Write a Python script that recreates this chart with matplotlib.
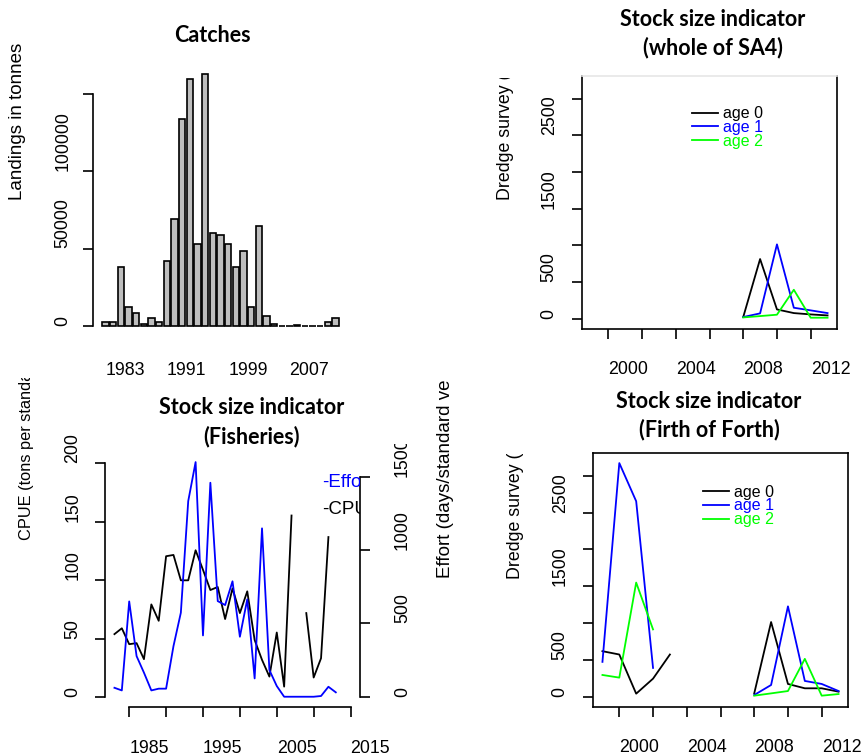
import numpy as np
import matplotlib
matplotlib.use("Agg")
import matplotlib.pyplot as plt
from matplotlib.transforms import Bbox, TransformedBbox

# ============ DATA ============

catch_years = list(range(1983, 2014))
catch_tonnes = [2800, 2800, 37900, 12300, 8600, 1100, 4900, 2800, 41700, 69000,
                133300, 159600, 53100, 162600, 59800, 58700, 53100, 37900, 48200, 12300,
                64300, 6400, 1000, 200, 200, 800, 200, 200, 200, 2800, 4900]
catch_ticks = [1983, 1991, 1999, 2007]

fish_years = list(range(1983, 2014))
cpue = [54, 59, 45.4, 46.3, 32.6, 79.4, 65.4, 120.6, 121.7, 100, 100, 125.7, 109, 91.7,
        94.3, 66.9, 93, 72, 90.6, 49, 32, 17.7, 55.4, 9.1, 155.4, np.nan, 72, 16.9, 33.4,
        137, np.nan]
effort = [61, 43, 650, 277, 164, 43, 55, 55, 345, 573, 1334, 1600, 418, 1459, 652, 625,
          787, 409, 664, 125, 1148, 182, 73, 0, 0, 0, 0, 0, 5, 68, 30]

sa4_years = [2008, 2009, 2010, 2011, 2012, 2013]
sa4_age0 = [23, 814, 127, 77, 59, 45]
sa4_age1 = [23, 73, 1014, 150, 114, 77]
sa4_age2 = [18, 36, 55, 395, 14, 14]

fof_years = list(range(1999, 2014))
fof_age0 = [618, 573, 41, 245, 573, np.nan, np.nan, np.nan, np.nan, 45, 1014, 173, 114, 114, 68]
fof_age1 = [473, 3173, 2655, 391, np.nan, np.nan, np.nan, np.nan, np.nan, 23, 159, 1227, 214, 173, 77]
fof_age2 = [295, 259, 1550, 914, np.nan, np.nan, np.nan, np.nan, np.nan, 14, 45, 77, 514, 14, 36]

age_labels = ["age 0", "age 1", "age 2"]
age_colors = ["black", "blue", "#00ff00"]

survey_ticks = list(range(2000, 2013, 2))
survey_ticklabels = ["2000", "", "2004", "", "2008", "", "2012"]
survey_yticks = list(range(0, 3001, 500))
survey_yticklabels = ["0", "500", "", "1500", "", "2500", ""]

# ============ STYLE ============

W, H = 861, 756
LW = 1.3
TICK_FS = 12.8
TITLE_FONT = "Lato"
TITLE_FS = 15.5
plt.rcParams["font.family"] = ["Liberation Sans", "DejaVu Sans"]
plt.rcParams["axes.linewidth"] = 1.2

fig = plt.figure(figsize=(W / 100, H / 100), dpi=100)


def rect(l, t, r, b):
    return [l / W, 1 - b / H, (r - l) / W, (b - t) / H]


def clip_above(top_px):
    # keep only what lies below top_px (pixels from top of image)
    return TransformedBbox(Bbox.from_extents(0, 0, 1, 1 - top_px / H), fig.transFigure)


def rotate_ylabels(ax, which="left"):
    ax.tick_params(axis="y", labelrotation=90)
    labs = ax.get_yticklabels() if which == "left" else ax.yaxis.get_ticklabels()
    for t in labs:
        t.set_verticalalignment("bottom")


def left_xlabels(ax):
    for t in ax.get_xticklabels():
        t.set_horizontalalignment("left")


def title(lines, x, ys):
    for s, y in zip(lines, ys):
        fig.text(x / W, 1 - y / H, s, ha="center", va="center", fontsize=TITLE_FS,
                 fontweight="bold", family=TITLE_FONT)


def ylabel(text, x, y_start, size, clip_top=None):
    t = fig.text(x / W, 1 - y_start / H, text, rotation=90, ha="center", va="bottom",
                 fontsize=size)
    if clip_top is not None:
        t.set_clip_box(clip_above(clip_top))
        t.set_clip_on(True)
    return t


# ============ CATCHES ============

ax1 = fig.add_axes(rect(93, 62.5, 348, 338.4))
ax1.bar(catch_years, catch_tonnes, width=0.833, color="#bebebe", edgecolor="black", linewidth=1.2)
ax1.set_xlim(1981.35, 2014.65)
ax1.set_ylim(-8000, 170000)
for s in ["top", "right", "bottom"]:
    ax1.spines[s].set_visible(False)
ax1.spines["left"].set_bounds(0, 150000)
ax1.set_yticks([0, 50000, 100000, 150000], ["0", "50000", "100000", ""])
ax1.set_xticks(catch_ticks, [str(y) for y in catch_ticks])
ax1.tick_params(axis="x", length=0, pad=17, labelsize=TICK_FS)
ax1.tick_params(axis="y", length=7.5, width=1.2, pad=8, labelsize=TICK_FS)
rotate_ylabels(ax1)
left_xlabels(ax1)
title(["Catches"], 212, [35])
ylabel("Landings in tonnes", 18, 200, 13.5)

# ============ SURVEY PANELS ============


def survey_panel(pos, years, ages, leg_anchor, faint_top=False):
    ax = fig.add_axes(pos)
    handles = []
    for vals, lab, col in zip(ages, age_labels, age_colors):
        h, = ax.plot(years, vals, color=col, lw=LW, label=lab)
        handles.append(h)
    ax.set_xlim(1998.44, 2013.56)
    ax.set_ylim(-140, 3310)
    ax.set_xticks(survey_ticks, survey_ticklabels)
    ax.set_yticks(survey_yticks, survey_yticklabels)
    ax.tick_params(axis="x", length=7.5, width=1.2, pad=15.5, labelsize=TICK_FS)
    ax.tick_params(axis="y", length=7.5, width=1.2, pad=10, labelsize=TICK_FS)
    rotate_ylabels(ax)
    left_xlabels(ax)
    if faint_top:
        ax.spines["top"].set_color("#e6e6e6")
    ax.legend(handles=handles, loc="upper left", bbox_to_anchor=leg_anchor, frameon=False,
              fontsize=11.5, handlelength=1.65, handletextpad=0.3, labelspacing=-0.08,
              borderpad=0, borderaxespad=0, labelcolor="linecolor")
    return ax


survey_panel(rect(582, 76, 837, 329), sa4_years, [sa4_age0, sa4_age1, sa4_age2],
             (0.431, 0.88), faint_top=True)
title(["Stock size indicator", "(whole of SA4)"], 713, [20, 48])
ylabel("Dredge survey (numbers per hour)", 505, 200, 12.8, clip_top=78)

survey_panel(rect(593, 453, 848, 707), fof_years, [fof_age0, fof_age1, fof_age2],
             (0.431, 0.875))
title(["Stock size indicator", "(Firth of Forth)"], 709, [401, 430])
ylabel("Dredge survey (numbers per hour)", 515, 579, 12.8, clip_top=454)

# ============ FISHERIES ============

ax3 = fig.add_axes(rect(105, 454, 360, 707))
ax3.plot(fish_years, cpue, color="black", lw=LW)
ax3.set_xlim(1981.72, 2016.28)
ax3.set_ylim(-8.3, 208)
for s in ["top", "right"]:
    ax3.spines[s].set_visible(False)
ax3.spines["left"].set_bounds(0, 200)
ax3.spines["bottom"].set_bounds(1985, 2015)
ax3.set_xticks(list(range(1985, 2016, 5)), ["1985", "", "1995", "", "2005", "", "2015"])
ax3.set_yticks([0, 50, 100, 150, 200], ["0", "50", "100", "150", "200"])
ax3.tick_params(axis="x", length=7.5, width=1.2, pad=16.5, labelsize=TICK_FS)
ax3.tick_params(axis="y", length=7.5, width=1.2, pad=9.5, labelsize=TICK_FS)
rotate_ylabels(ax3)
left_xlabels(ax3)

ax4 = ax3.twinx()
ax4.plot(fish_years, effort, color="blue", lw=LW)
ax4.set_ylim(-70, 1655)
for s in ["top", "left", "bottom"]:
    ax4.spines[s].set_visible(False)
ax4.spines["right"].set_bounds(0, 1500)
ax4.set_yticks([0, 500, 1000, 1500], ["0", "500", "1000", "1500"])
ax4.tick_params(axis="y", length=7.5, width=1.2, pad=17, labelsize=TICK_FS)
rotate_ylabels(ax4, which="right")
for t in ax4.yaxis.get_ticklabels():
    t.set_clip_box(clip_above(444))
    t.set_clip_on(True)

ax4.text(0.85, 0.887, "-Effort", color="blue", fontsize=13.5, transform=ax4.transAxes,
         va="center", ha="left", clip_on=True)
ax4.text(0.85, 0.779, "-CPUE", color="black", fontsize=13.5, transform=ax4.transAxes,
         va="center", ha="left", clip_on=True)

title(["Stock size indicator", "(Fisheries)"], 252, [407, 437])
ylabel("CPUE (tons per standard vessel day)", 27, 540, 11.8, clip_top=378)
ylabel("Effort (days/standard vessel)", 445, 578, 13.5, clip_top=381)

fig.savefig("out.png", dpi=100)
